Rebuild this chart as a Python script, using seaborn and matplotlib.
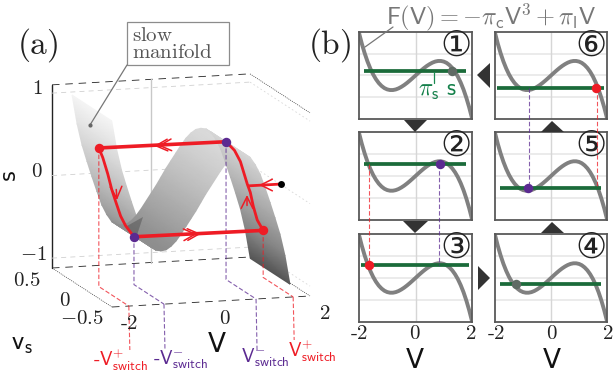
import numpy as np
import pandas as pd
import matplotlib
matplotlib.use("Agg")
import matplotlib.pyplot as plt
from matplotlib.patches import Polygon, Rectangle
import seaborn as sns

sns.set_theme(style="white")
plt.rcParams["mathtext.fontset"] = "cm"
plt.rcParams["font.family"] = ["DejaVu Sans"]

# ---------- data ----------
v_grid = [-2.0,-1.9,-1.8,-1.7,-1.6,-1.5,-1.4,-1.3,-1.2,-1.1,-1.0,-0.9,-0.8,-0.7,-0.6,-0.5,-0.4,-0.3,-0.2,-0.1,
          0.0,0.1,0.2,0.3,0.4,0.5,0.6,0.7,0.8,0.9,1.0,1.1,1.2,1.3,1.4,1.5,1.6,1.7,1.8,1.9,2.0]
f_curve = [0.98,0.731,0.513,0.323,0.162,0.026,-0.085,-0.174,-0.241,-0.29,-0.32,-0.334,-0.334,-0.321,-0.296,-0.261,-0.219,-0.17,-0.116,-0.059,
           0.0,0.059,0.116,0.17,0.219,0.261,0.296,0.321,0.334,0.334,0.32,0.29,0.241,0.174,0.085,-0.026,-0.162,-0.323,-0.513,-0.731,-0.98]
panel_nums = ["①","②","③","④","⑤","⑥"]
panel_levels = [0.10,0.27,0.30,-0.14,-0.27,-0.29]
panel_dots_v = [1.28,0.85,-1.66,-1.26,-0.83,1.59]
panel_spans = [(-1.82,1.8),(-1.82,1.8),(-1.92,1.9),(-1.82,1.8),(-1.82,1.8),(-1.92,1.9)]

surf_v = [-1.8,-1.7,-1.6,-1.5,-1.4,-1.3,-1.2,-1.1,-1.0,-0.9,-0.8,-0.7,-0.6,-0.5,-0.4,-0.3,-0.2,-0.1,
          0.0,0.1,0.2,0.3,0.4,0.5,0.6,0.7,0.8,0.9,1.0,1.1,1.2,1.3,1.4,1.5,1.6,1.7,1.8]
surf_s = [1.05,0.70,0.44,0.24,0.05,-0.13,-0.30,-0.42,-0.51,-0.55,-0.56,-0.55,-0.51,-0.45,-0.37,-0.28,-0.19,-0.10,
          0.0,0.10,0.19,0.28,0.37,0.45,0.51,0.55,0.56,0.55,0.51,0.42,0.30,0.13,-0.05,-0.24,-0.44,-0.70,-1.05]
surf_vs = [0.33,-0.33]

top_v, top_s = [0.91,-1.66], [0.55,0.56]
bottom_v, bottom_s = [-0.95,1.66], [-0.54,-0.55]
left_v = [-1.66,-1.58,-1.48,-1.40,-1.32,-1.22,-1.12,-0.95]
left_s = [0.56,0.44,0.24,0.05,-0.10,-0.28,-0.40,-0.54]
right_v = [1.66,1.54,1.46,1.40,1.34,1.20,1.08,0.91]
right_s = [-0.55,-0.42,-0.25,-0.08,0.02,0.30,0.44,0.55]
start_v, start_s = [2.02,1.70,1.37], [0.0,0.0,0.0]

switch_v = [-1.66,-0.95,0.91,1.66]
switch_s = [0.56,-0.54,0.55,-0.55]

RED, PURPLE, GREEN = "#ee1c25", "#5b2a91", "#1b6b3a"
GRAY = "#808080"

W, H = 614, 374
fig = plt.figure(figsize=(W/100, H/100), dpi=100, facecolor="white")

def px_axes(x0, y0, x1, y1, **kw):
    return fig.add_axes([x0/W, 1-y1/H, (x1-x0)/W, (y1-y0)/H], **kw)

# ---------- panel (b) ----------
boxes = [(359,32,472,119),(359,132,472,220),(359,234,472,322),
         (495,234,607,322),(495,132,607,220),(495,32,607,119)]
dot_colors = ["#5f6a64",PURPLE,RED,"#5f6a64",PURPLE,RED]
curve_df = pd.DataFrame({"V": v_grid, "F": f_curve})
for i, box in enumerate(boxes):
    ax = px_axes(*box)
    ax.set_xlim(-2, 2); ax.set_ylim(-1, 1)
    ax.set_xticks([]); ax.set_yticks([])
    for y in (-0.5, 0, 0.5):
        ax.axhline(y, color="#e9e9e9", lw=1.3, zorder=0)
    ax.axvline(0, color="#d6d6d6", lw=1, zorder=0)
    sns.lineplot(data=curve_df, x="V", y="F", ax=ax, color=GRAY, lw=2.8, zorder=2)
    ax.plot(panel_spans[i], [panel_levels[i]]*2, color=GREEN, lw=2.7, zorder=3, solid_capstyle="butt")
    dv = panel_dots_v[i]
    ax.plot([dv], [panel_levels[i]], "o", ms=6.8, color=dot_colors[i], mec="none", zorder=4)
    ax.set_xlabel(""); ax.set_ylabel("")
    for s in ax.spines.values():
        s.set_color("#595959"); s.set_linewidth(1.3)
    ax.text(0.86, 0.84, panel_nums[i], transform=ax.transAxes,
            ha="center", va="center", fontsize=25, color="#222222")

# ---------- overlay in pixel coordinates ----------
ov = fig.add_axes([0, 0, 1, 1], zorder=10)
ov.set_xlim(0, W); ov.set_ylim(H, 0); ov.axis("off"); ov.patch.set_alpha(0)

def T(x, y, s, **kw):
    kw.setdefault("ha", "center"); kw.setdefault("va", "center")
    kw.setdefault("color", "#222222")
    return ov.text(x, y, s, **kw)

# triangles between panels
for pts in [[(404,120),(427,120),(415,132)],[(403,221),(428,221),(415,233)],
            [(541,233),(564,233),(552,222)],[(541,132),(564,132),(552,121)],
            [(490,63),(490,88),(477,75)],[(478,266),(478,290),(490,278)]]:
    ov.add_patch(Polygon(pts, closed=True, color="#333333", lw=0))

# links between panels
for x, y0, y1, c in [(369,164,265,RED),(439,164,265,PURPLE),(529,88,188,PURPLE),(597,88,188,RED)]:
    ov.plot([x, x], [y0, y1], color=c, lw=0.8, ls=(0, (4, 2)), alpha=0.75)
ov.plot([434, 434], [72, 83], color="#1a8a50", lw=0.9)
ov.plot([393, 365], [27, 47], color="#777777", lw=0.9)
T(437, 90, r"$\pi_{\mathsf{s}}\ \mathsf{s}$", fontsize=17, color="#14804a")
T(491, 17, r"$\mathsf{F(V)}=-\pi_{\mathsf{c}}\mathsf{V}^3+\pi_{\mathsf{l}}\mathsf{V}$", fontsize=17.5, color="#777777")
T(330, 45, r"$\mathrm{(b)}$", fontsize=24)
for xc in (415, 552):
    for off, lab in ((-56, r"$\mathrm{\text{-}2}$"), (0, r"$\mathrm{0}$"), (56, r"$\mathrm{2}$")):
        T(xc+off, 333, lab, fontsize=15)
    T(xc, 361, "V", fontsize=19, color="#111111")

# ---------- panel (a): box projection ----------
def P(V, vs, s):
    V, vs, s = np.asarray(V, float), np.asarray(vs, float), np.asarray(s, float)
    return (52 + 49.5*(V+2) + 60*(0.5-vs),
            175.6 - 82.5*s - 2.75*(V+2) + 39*(0.5-vs))

def L3(Vs, vss, ss, **kw):
    x, y = P(Vs, vss, ss)
    ov.plot(x, y, **kw)

FLOOR, ROOF = -1.12, 1.1
dash = dict(color="#222222", lw=0.6, ls=(0, (9, 7)))
dots = dict(color="#333333", lw=0.5, ls=(0, (1.5, 1.5)))
L3([-2,2],[0.5,0.5],[ROOF,ROOF], **dash)
L3([2,2],[0.5,-0.5],[ROOF,ROOF], **dots)
L3([-2,2],[0.5,0.5],[FLOOR,FLOOR], **dash)
L3([-2,2],[-0.5,-0.5],[FLOOR,FLOOR], **dash)
L3([-2,-2],[0.5,-0.5],[FLOOR,FLOOR], **dots)
L3([2,2],[0.5,-0.5],[FLOOR,FLOOR], **dots)
L3([-2,-2],[0.5,0.5],[FLOOR,ROOF], color="#222222", lw=1)
L3([0,0],[0.5,0.5],[FLOOR,ROOF], color="#c8c8c8", lw=1)
for sv in (1, 0, -1):
    L3([-2,2],[0.5,0.5],[sv,sv], color="#d0d0d0", lw=0.6, ls=(0,(6,5)))
    L3([2,2],[0.5,-0.5],[sv,sv], color="#d8d8d8", lw=0.6, ls=(0,(2,3)))

# surface
VV, VS = np.meshgrid(surf_v, surf_vs)
SS = np.tile(surf_s, (2, 1))
X, Y = P(VV, VS, SS)
shade = np.clip((np.array(SS)+1.05)/2.1, 0, 1)
ov.pcolormesh(X, Y, 0.33 + 0.63*shade**0.7, cmap="gray", vmin=0, vmax=1,
              shading="gouraud", zorder=2)
ov.add_patch(Polygon([(127,226),(143,217),(135,241)], closed=True, color="#333333",
                     alpha=0.35, lw=0, zorder=2.5))

# drop lines
for v0, s0, c in zip(switch_v, switch_s, [RED, PURPLE, PURPLE, RED]):
    x, y = P([v0, v0, v0], [0, 0, -0.5], [s0, FLOOR, FLOOR])
    ov.plot(x, y, color=c, lw=0.8, ls=(0, (4, 2)), alpha=0.75, zorder=3)
    ov.plot([x[2], x[2]+1], [y[2], y[2]+ (350-y[2] if v0 < 1 else 340-y[2])],
            color=c, lw=0.8, ls=(0, (4, 2)), alpha=0.75, zorder=3)

# trajectory
def traj(vv, ss, lw=2.4, c=RED):
    x, y = P(vv, np.zeros(len(vv)), ss)
    d = pd.DataFrame({"x": x, "y": y})
    sns.lineplot(data=d, x="x", y="y", ax=ov, sort=False, estimator=None, color=c,
                 lw=lw, zorder=5, legend=False)
    return x, y

def chevron(x0, y0, x1, y1, n=2):
    for k in range(n):
        fx, fy = x0 + (x1-x0)*k*0.55, y0 + (y1-y0)*k*0.55
        ov.annotate("", xy=(fx, fy), xytext=(fx-(x1-x0)*1.5, fy-(y1-y0)*1.5),
                    arrowprops=dict(arrowstyle="->,head_length=0.7,head_width=0.35",
                                    color=RED, lw=1.1, shrinkA=0, shrinkB=0), zorder=6)

traj(top_v, top_s, lw=2.6)
traj(bottom_v, bottom_s, lw=2.6)
traj(left_v, left_s, lw=2.0)
traj(right_v, right_s, lw=2.0)
traj(start_v, start_s, lw=2.0)
chevron(158, 145.6, 151, 146.0)
chevron(197, 234, 204, 233.6)
chevron(117, 200, 117.5, 207, n=1)
chevron(247, 195, 247.0, 188, n=1)
chevron(259, 185, 252, 185, n=1)

x, y = P(switch_v, [0]*4, switch_s)
for xi, yi, c in zip(x, y, [RED, PURPLE, PURPLE, RED]):
    ov.plot([xi], [yi], "o", ms=6.8, color=c, mec="none", zorder=7)
bx, by = P([start_v[0]], [0], [start_s[0]])
ov.plot(bx, by, "o", ms=5, color="black", mec="none", zorder=7)

# annotation box
ov.add_patch(Rectangle((127, 22), 102, 43, fc="white", ec="#8c8c8c", lw=0.9, zorder=4))
T(132, 35, r"$\mathrm{slow}$", fontsize=15, ha="left", color="#555555", zorder=5)
T(132, 52, r"$\mathrm{manifold}$", fontsize=15, ha="left", color="#555555", zorder=5)
ov.plot([127, 90], [65, 125], color="#777777", lw=0.9, zorder=4)
ov.plot([90], [125], "o", ms=3, color="#666666", mec="none", zorder=4)

# texts of panel (a)
T(38, 45, r"$\mathrm{(a)}$", fontsize=24)
T(37, 88, r"$\mathrm{1}$", fontsize=15)
T(37, 171, r"$\mathrm{0}$", fontsize=15)
T(33, 254, r"$\mathrm{-1}$", fontsize=15)
T(9, 175, "s", fontsize=15, rotation=90, color="#111111")
T(27, 280, r"$\mathrm{0.5}$", fontsize=15)
T(65, 300, r"$\mathrm{0}$", fontsize=15)
T(82, 318, r"$\mathrm{-0.5}$", fontsize=15)
T(129, 323, r"$\mathrm{\text{-}2}$", fontsize=15)
T(225, 318, r"$\mathrm{0}$", fontsize=15)
T(325, 313, r"$\mathrm{2}$", fontsize=15)
T(22, 343, r"$\mathsf{v_s}$", fontsize=19, color="#111111")
T(217, 345, "V", fontsize=19, color="#111111")
T(120, 360, r"$\mathsf{\text{-}V}^{+}_{\mathsf{switch}}$", fontsize=13.5, color=RED)
T(180, 360, r"$\mathsf{\text{-}V}^{-}_{\mathsf{switch}}$", fontsize=13.5, color=PURPLE)
T(265, 358, r"$\mathsf{V}^{-}_{\mathsf{switch}}$", fontsize=13.5, color=PURPLE)
T(312, 351, r"$\mathsf{V}^{+}_{\mathsf{switch}}$", fontsize=13.5, color=RED)
ov.set_xlabel(""); ov.set_ylabel("")
ov.set_xlim(0, W); ov.set_ylim(H, 0)

fig.savefig("out.png", dpi=100)
